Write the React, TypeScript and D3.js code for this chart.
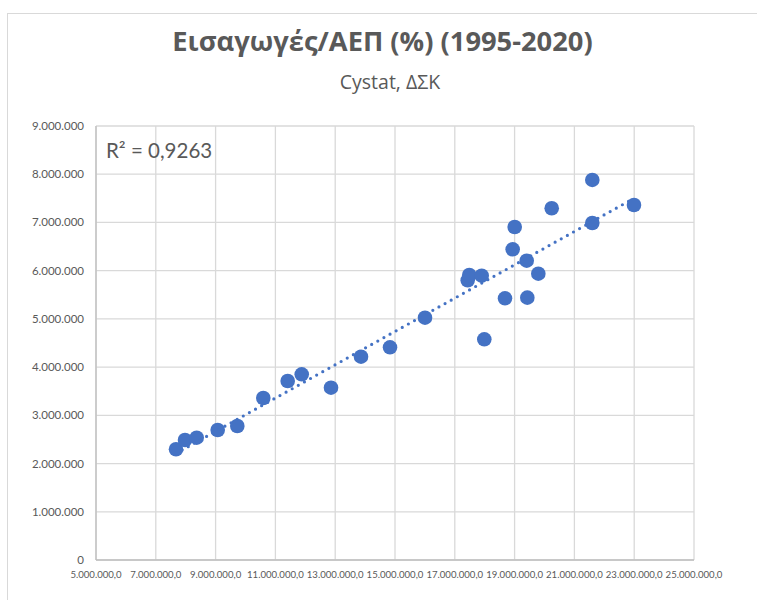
import React, { useEffect, useRef } from 'react';
import * as d3 from 'd3';

// GDP (x) and imports (y), 1995-2020
const gdpValues = [
  7676000, 7977000, 8368000, 9070000, 9726000, 10595000, 11411000, 11880000,
  12860000, 13863000, 14833000, 16003000, 17431000, 17485000, 17900000, 17987000,
  18679000, 18936000, 19003000, 19405000, 19425000, 19793000, 20241000, 21599000,
  21599000, 22993000,
];
const importValues = [
  2296000, 2489000, 2536000, 2696000, 2779000, 3360000, 3712000, 3851000,
  3573000, 4216000, 4411000, 5025000, 5800000, 5910000, 5896000, 4577000,
  5427000, 6443000, 6906000, 6207000, 5440000, 5937000, 7294000, 7881000,
  6989000, 7362000,
];
const xTicks = [5e6, 7e6, 9e6, 11e6, 13e6, 15e6, 17e6, 19e6, 21e6, 23e6, 25e6];
const yTicks = [0, 1e6, 2e6, 3e6, 4e6, 5e6, 6e6, 7e6, 8e6, 9e6];

const chartTitle = 'Εισαγωγές/ΑΕΠ (%) (1995-2020)';
const chartSubtitle = 'Cystat, ΔΣΚ';
const rSquaredLabel = 'R² = 0,9263';

const fmtInt = (v: number) => d3.format(',')(v).replace(/,/g, '.');
const fmtDec = (v: number) => d3.format(',.1f')(v).replace(/,/g, '#').replace('.', ',').replace(/#/g, '.');

const App = () => {
  const ref = useRef<SVGSVGElement>(null);

  useEffect(() => {
    const width = 757;
    const height = 600;
    const margin = { top: 126, right: 63, bottom: 40, left: 96 };
    const svg = d3.select(ref.current);
    svg.selectAll('*').remove();

    svg.append('rect')
      .attr('x', 7.5).attr('y', 13.5)
      .attr('width', 800).attr('height', 700)
      .attr('fill', '#fff').attr('stroke', '#d9d9d9');

    const xScale = d3.scaleLinear().domain([5e6, 25e6]).range([margin.left, width - margin.right]);
    const yScale = d3.scaleLinear().domain([0, 9e6]).range([height - margin.bottom, margin.top]);

    const grid = svg.append('g');
    grid.selectAll('line.v')
      .data(xTicks)
      .enter()
      .append('line')
      .attr('x1', d => xScale(d)).attr('x2', d => xScale(d))
      .attr('y1', yScale(0)).attr('y2', yScale(9e6))
      .attr('stroke', '#d9d9d9').attr('stroke-width', 1.3);
    grid.selectAll('line.h')
      .data(yTicks)
      .enter()
      .append('line')
      .attr('x1', xScale(5e6)).attr('x2', xScale(25e6))
      .attr('y1', d => yScale(d)).attr('y2', d => yScale(d))
      .attr('stroke', '#d9d9d9').attr('stroke-width', 1.3);

    // axis lines
    svg.append('line')
      .attr('x1', xScale(5e6)).attr('x2', xScale(25e6))
      .attr('y1', yScale(0)).attr('y2', yScale(0))
      .attr('stroke', '#bfbfbf').attr('stroke-width', 1.3);
    svg.append('line')
      .attr('x1', xScale(5e6)).attr('x2', xScale(5e6))
      .attr('y1', yScale(0)).attr('y2', yScale(9e6))
      .attr('stroke', '#bfbfbf').attr('stroke-width', 1.3);

    // tick labels
    svg.append('g').selectAll('text')
      .data(yTicks)
      .enter()
      .append('text')
      .attr('x', margin.left - 12)
      .attr('y', d => yScale(d) + 4)
      .attr('text-anchor', 'end')
      .attr('font-family', 'Lato, sans-serif')
      .attr('font-size', 11.5)
      .attr('fill', '#595959')
      .text(d => fmtInt(d));

    svg.append('g').selectAll('text')
      .data(xTicks)
      .enter()
      .append('text')
      .attr('x', d => xScale(d))
      .attr('y', yScale(0) + 18)
      .attr('text-anchor', 'middle')
      .attr('font-family', 'Lato, sans-serif')
      .attr('font-size', 9.6)
      .attr('fill', '#595959')
      .text(d => fmtDec(d));

    // linear trend line (least squares)
    const n = gdpValues.length;
    const mx = d3.mean(gdpValues)!;
    const my = d3.mean(importValues)!;
    let sxy = 0, sxx = 0;
    for (let i = 0; i < n; i++) {
      sxy += (gdpValues[i] - mx) * (importValues[i] - my);
      sxx += (gdpValues[i] - mx) ** 2;
    }
    const slope = sxy / sxx;
    const intercept = my - slope * mx;
    const [x0, x1] = d3.extent(gdpValues) as [number, number];

    const points = gdpValues.map((x, i) => ({ x, y: importValues[i] }));
    svg.append('g').selectAll('circle')
      .data(points)
      .enter()
      .append('circle')
      .attr('cx', d => xScale(d.x))
      .attr('cy', d => yScale(d.y))
      .attr('r', 7.3)
      .attr('fill', '#4472c4');

    svg.append('line')
      .attr('x1', xScale(x0)).attr('y1', yScale(slope * x0 + intercept))
      .attr('x2', xScale(x1)).attr('y2', yScale(slope * x1 + intercept))
      .attr('stroke', '#4472c4')
      .attr('stroke-width', 3.2)
      .attr('stroke-linecap', 'round')
      .attr('stroke-dasharray', '0 7');

    svg.append('text')
      .attr('x', 106).attr('y', 157.5)
      .attr('font-family', 'Lato, sans-serif')
      .attr('font-size', 20.5)
      .attr('fill', '#595959')
      .text(rSquaredLabel);

    svg.append('text')
      .attr('x', 382.5).attr('y', 51)
      .attr('text-anchor', 'middle')
      .attr('font-family', '"Open Sans", sans-serif')
      .attr('font-weight', 'bold')
      .attr('font-size', 27.3)
      .attr('fill', '#595959')
      .text(chartTitle);

    svg.append('text')
      .attr('x', 390).attr('y', 89)
      .attr('text-anchor', 'middle')
      .attr('font-family', '"Open Sans", sans-serif')
      .attr('font-size', 19.5)
      .attr('fill', '#595959')
      .text(chartSubtitle);
  }, []);

  return (
    <svg
      ref={ref}
      width={757}
      height={600}
      style={{ position: 'absolute', left: 0, top: 0, background: '#fff' }}
    />
  );
};

export default App;
